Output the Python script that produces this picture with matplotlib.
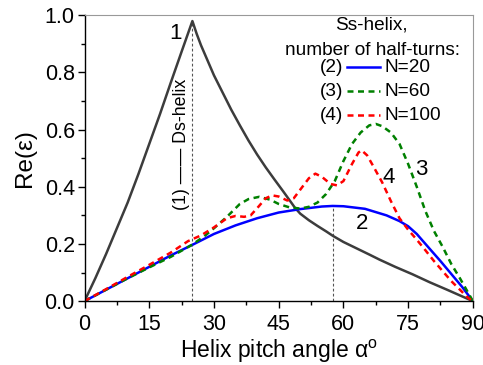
import matplotlib
matplotlib.use("Agg")
import matplotlib.pyplot as plt
from matplotlib.ticker import MultipleLocator

plt.rcParams["font.family"] = ["Liberation Sans", "DejaVu Sans"]
plt.rcParams["mathtext.fontset"] = "custom"
plt.rcParams["mathtext.rm"] = "Liberation Sans"

# (1) Ds-helix
ds_alpha = [0, 2.5, 5, 7.5, 10, 12.5, 15, 17.5, 20, 22.5, 25, 26, 27, 28, 30, 32, 34, 36,
            38, 40, 42, 44, 46, 48, 48.8, 50, 52, 54, 56, 57.6, 60, 63, 66, 68.4, 72, 76,
            80, 84, 87, 90]
ds_re = [0, 0.08, 0.165, 0.255, 0.345, 0.445, 0.55, 0.655, 0.765, 0.873, 0.98, 0.935,
         0.895, 0.86, 0.79, 0.73, 0.67, 0.615, 0.562, 0.513, 0.468, 0.426, 0.385, 0.343,
         0.326, 0.306, 0.283, 0.263, 0.244, 0.228, 0.207, 0.185, 0.163, 0.145, 0.12,
         0.094, 0.066, 0.04, 0.02, 0]

# (2) N=20
n20_alpha = [0, 5, 10, 15, 20, 25, 30, 35, 40, 45, 50, 55, 57.5, 60, 65, 70, 73, 75, 77,
             80, 82.5, 85, 87.5, 90]
n20_re = [0, 0.04, 0.08, 0.12, 0.16, 0.197, 0.235, 0.265, 0.29, 0.31, 0.322, 0.331,
          0.333, 0.332, 0.323, 0.3, 0.28, 0.262, 0.235, 0.183, 0.14, 0.095, 0.05, 0]

# (3) N=60
n60_alpha = [0, 5, 10, 15, 20, 25, 28, 30, 33, 36, 38, 40.5, 43, 45, 47.5, 50, 52, 54,
             56, 58, 60, 62, 64, 66, 67.5, 69, 71, 73, 75, 77, 79, 81, 83, 85, 87, 89, 90]
n60_re = [0, 0.04, 0.08, 0.118, 0.155, 0.198, 0.23, 0.255, 0.295, 0.34, 0.357, 0.365,
          0.355, 0.34, 0.328, 0.324, 0.33, 0.345, 0.375, 0.42, 0.49, 0.55, 0.59, 0.615,
          0.62, 0.612, 0.59, 0.55, 0.48, 0.40, 0.315, 0.245, 0.19, 0.13, 0.08, 0.027, 0]

# (4) N=100
n100_alpha = [0, 5, 10, 15, 20, 24, 27, 30, 33, 35, 37, 38.5, 40, 42, 43.5, 45, 47, 48.5,
              50, 52, 53.5, 55, 57, 58.5, 60, 62, 63.5, 64.2, 65.5, 67, 69, 71, 73, 75,
              77, 79, 81, 83, 85, 87, 89, 90]
n100_re = [0, 0.042, 0.085, 0.127, 0.17, 0.21, 0.23, 0.258, 0.29, 0.298, 0.295, 0.30,
           0.325, 0.36, 0.37, 0.366, 0.352, 0.36, 0.39, 0.43, 0.446, 0.435, 0.41, 0.405,
           0.42, 0.48, 0.52, 0.528, 0.51, 0.47, 0.415, 0.35, 0.29, 0.25, 0.215, 0.178,
           0.14, 0.105, 0.07, 0.04, 0.01, 0]

# dashed guide lines at the two maxima
guide_alpha = [25, 57.5]
guide_top = [0.98, 0.333]

legend_tags = ["(2)", "(3)", "(4)"]
legend_labels = ["N=20", "N=60", "N=100"]

DASH = (2.4, 1.8)

fig = plt.figure(figsize=(4.83, 3.65), dpi=100)
ax = fig.add_axes([0.175, 0.175, 0.804, 0.783])

ax.vlines(guide_alpha, 0, guide_top, colors="#555555", linestyles=(0, (2.5, 2)), lw=0.8)

ax.plot(ds_alpha, ds_re, color="#3c3c3c", lw=1.8)
ax.plot(n20_alpha, n20_re, color="#0000ff", lw=1.8)
ax.plot(n60_alpha, n60_re, color="#008000", lw=1.8, dashes=DASH)
ax.plot(n100_alpha, n100_re, color="#ff0000", lw=1.8, dashes=DASH)

ax.set_xlim(0, 90)
ax.set_ylim(0, 1.0)
ax.xaxis.set_major_locator(MultipleLocator(15))
ax.xaxis.set_minor_locator(MultipleLocator(7.5))
ax.yaxis.set_major_locator(MultipleLocator(0.2))
ax.yaxis.set_minor_locator(MultipleLocator(0.1))
ax.yaxis.set_major_formatter(plt.FormatStrFormatter("%.1f"))
ax.tick_params(which="major", direction="out", length=5, width=1, labelsize=15.5, pad=2)
ax.tick_params(which="minor", direction="out", length=3, width=1)
ax.tick_params(axis="x", pad=4)

for side in ["top", "right"]:
    ax.spines[side].set_color("#999999")
for side in ["left", "bottom"]:
    ax.spines[side].set_linewidth(1.0)

ax.set_xlabel("Helix pitch angle \u03b1$^{\\mathrm{o}}$", fontsize=16.5, labelpad=2)
ax.set_ylabel("Re(\u03b5)", fontsize=17.5, labelpad=6)

# curve numbers
ax.text(21.1, 0.937, "1", fontsize=16, ha="center", va="center")
ax.text(64.4, 0.27, "2", fontsize=16, ha="center", va="center")
ax.text(78.1, 0.461, "3", fontsize=16, ha="center", va="center")
ax.text(70.4, 0.432, "4", fontsize=16, ha="center", va="center")
ax.text(22.5, 0.55, "(1) \u2014\u2014 Ds-helix", fontsize=12.8, rotation=90,
        ha="center", va="center")

# legend block
ax.text(0.739, 0.965, "Ss-helix,", fontsize=13.7, ha="center", va="center",
        transform=ax.transAxes)
ax.text(0.741, 0.878, "number of half-turns:", fontsize=13.7, ha="center", va="center",
        transform=ax.transAxes)
rows_y = [0.818, 0.734, 0.650]
styles = [dict(color="#0000ff"), dict(color="#008000", dashes=DASH),
          dict(color="#ff0000", dashes=DASH)]
for st, tag, lab, y in zip(styles, legend_tags, legend_labels, rows_y):
    ax.text(0.665, y, tag, fontsize=13.7, ha="right", va="center", transform=ax.transAxes)
    ax.plot([0.676, 0.760], [y, y], transform=ax.transAxes, lw=1.8, **st)
    ax.text(0.773, y, lab, fontsize=13.7, ha="left", va="center", transform=ax.transAxes)

fig.savefig("out.png", dpi=100)
